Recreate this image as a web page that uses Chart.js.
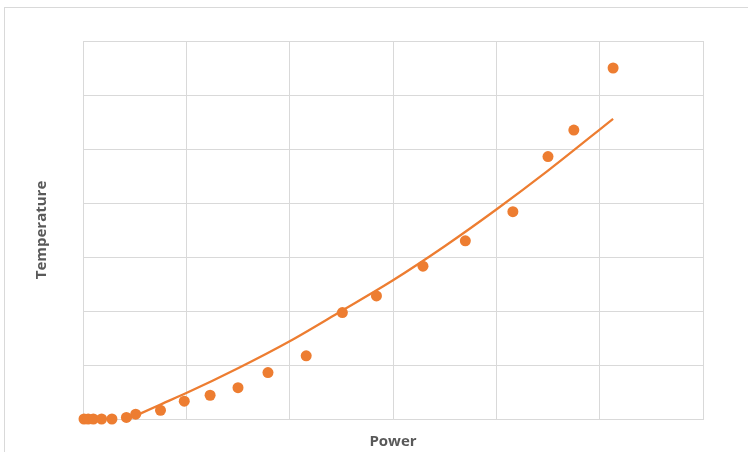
<!DOCTYPE html>
<html>
<head>
<meta charset="utf-8">
<script src="https://cdn.jsdelivr.net/npm/chart.js@4/dist/chart.umd.min.js"></script>
<style>
  html, body { margin: 0; padding: 0; background: #ffffff; }
  #wrap { position: relative; width: 748px; height: 452px; overflow: hidden; }
  #frame { position: absolute; left: 4px; top: 7px; width: 760px; height: 460px;
           border-top: 1px solid #d9d9d9; border-left: 1px solid #d9d9d9; box-sizing: border-box; }
  canvas { position: absolute; left: 0; top: 0; }
</style>
</head>
<body>
<div id="wrap">
  <div id="frame"></div>
  <canvas id="c" width="748" height="452"></canvas>
</div>
<script>
const powerValues = [0.01, 0.05, 0.10, 0.18, 0.28, 0.42, 0.51, 0.75, 0.98, 1.23, 1.50, 1.79, 2.16, 2.51, 2.84, 3.29, 3.70, 4.16, 4.50, 4.75, 5.13];
const temperatureValues = [0.00, 0.00, 0.00, 0.00, 0.00, 0.03, 0.09, 0.16, 0.33, 0.44, 0.58, 0.86, 1.17, 1.97, 2.28, 2.83, 3.30, 3.84, 4.86, 5.35, 6.50];

// Trendline points
const trendPower = [0.44, 0.75, 1.00, 1.50, 2.00, 2.50, 3.00, 3.50, 4.00, 4.50, 5.13];
const trendTemperature = [0.00, 0.27, 0.48, 0.94, 1.44, 2.00, 2.57, 3.20, 3.88, 4.60, 5.56];

const xTitle = 'Power';
const yTitle = 'Temperature';

const ORANGE = '#ED7D31';
const GRID = '#d9d9d9';
const TEXT = '#595959';

const scatterData = powerValues.map((x, i) => ({ x: x, y: temperatureValues[i] }));
const trendData = trendPower.map((x, i) => ({ x: x, y: trendTemperature[i] }));

new Chart(document.getElementById('c'), {
  type: 'scatter',
  data: {
    datasets: [
      {
        label: 'Trend',
        type: 'line',
        data: trendData,
        showLine: true,
        borderColor: ORANGE,
        borderWidth: 2.25,
        pointRadius: 0,
        fill: false,
        cubicInterpolationMode: 'monotone',
        order: 2
      },
      {
        label: 'Temperature',
        data: scatterData,
        backgroundColor: ORANGE,
        borderColor: ORANGE,
        borderWidth: 0,
        pointRadius: 5.5,
        pointHoverRadius: 5.5,
        clip: false,
        order: 1
      }
    ]
  },
  options: {
    responsive: false,
    animation: false,
    layout: { padding: { left: 29, right: 45, top: 41, bottom: 1 } },
    plugins: { legend: { display: false }, tooltip: { enabled: false } },
    scales: {
      x: {
        type: 'linear',
        min: 0, max: 6,
        ticks: { display: false, stepSize: 1 },
        grid: { color: GRID, lineWidth: 1, drawTicks: false },
        border: { display: true, color: GRID, width: 1 },
        title: {
          display: true, text: xTitle, color: TEXT,
          font: { family: 'Open Sans', size: 15, weight: 'bold', lineHeight: 1.2 },
          padding: { top: 14, bottom: 0 }
        }
      },
      y: {
        type: 'linear',
        min: 0, max: 7,
        ticks: { display: false, stepSize: 1 },
        grid: { color: GRID, lineWidth: 1, drawTicks: false },
        border: { display: true, color: GRID, width: 1 },
        title: {
          display: true, text: yTitle, color: TEXT,
          font: { family: 'Open Sans', size: 15, weight: 'bold', lineHeight: 1.2 },
          padding: { top: 4, bottom: 32 }
        }
      }
    }
  }
});
</script>
</body>
</html>
